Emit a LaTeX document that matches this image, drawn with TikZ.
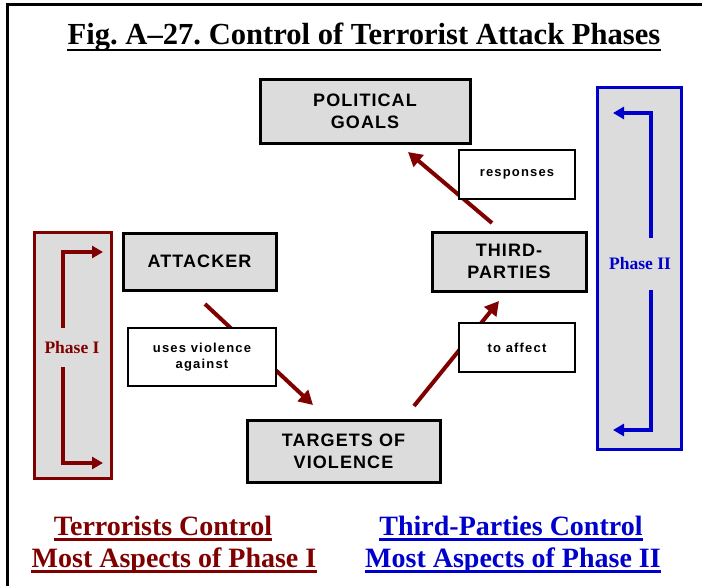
\documentclass[tikz,border=0pt]{standalone}
\usepackage{fontspec}
\setmainfont{Liberation Serif}
\newfontfamily\arialf{Liberation Sans}[LetterSpace=6]
\newfontfamily\arials{Liberation Sans}[LetterSpace=9]
\usetikzlibrary{arrows.meta,calc}
\definecolor{dred}{HTML}{800000}
\definecolor{dblue}{HTML}{0000CC}
\definecolor{boxgray}{HTML}{DCDCDC}
\tikzset{
  graybox/.style={draw=black, line width=3pt, fill=boxgray, inner sep=0pt, align=center, font=\arialf\bfseries\fontsize{18}{22}\selectfont},
  labelbox/.style={draw=black, line width=2.5pt, fill=white, inner sep=0pt, align=center, font=\arials\bfseries\fontsize{13}{16}\selectfont},
  flow/.style={draw=dred, line width=4pt, -{Triangle[length=14pt,width=15pt]}},
  phasearrow/.style={line width=3.5pt, -{Triangle[length=11pt,width=12pt]}},
  phasebox/.style={line width=3pt, fill=boxgray},
  bottomtext/.style={inner sep=0pt, anchor=base, font=\bfseries\fontsize{28}{32}\selectfont},
}
\frenchspacing
\begin{document}
\begin{tikzpicture}[x=1pt,y=-1pt]
\useasboundingbox (0,0) rectangle (702,586);
% frame
\draw[line width=3pt] (7,586) -- (7,5) -- (702,5);
% title
\node[inner sep=0pt, anchor=base, font=\bfseries\fontsize{30.6}{34}\selectfont] (title) at (364,45) {Fig. A--27. Control of Terrorist Attack Phases};
\draw[line width=2.4pt] ($(title.base west)+(0,5)$) -- ($(title.base east)+(0,5)$);

% phase boxes
\draw[phasebox, draw=dred] (34,232) rectangle (111,478);
\draw[phasebox, draw=dblue] (597,88) rectangle (681,449);
\node[text=dred, font=\bfseries\fontsize{17.5}{20}\selectfont] (ph1) at (72,348) {Phase I};
\node[text=dblue, font=\bfseries\fontsize{17.5}{20}\selectfont] (ph2) at (640,264) {Phase II};
\coordinate (p1a) at (63,328); \coordinate (p1b) at (103,252);
\coordinate (p1c) at (63,367); \coordinate (p1d) at (103,463);
\draw[phasearrow, draw=dred] (p1a) |- (p1b);
\draw[phasearrow, draw=dred] (p1c) |- (p1d);
\coordinate (p2a) at (651,238); \coordinate (p2b) at (613,113);
\coordinate (p2c) at (651,290); \coordinate (p2d) at (613,430);
\draw[phasearrow, draw=dblue] (p2a) |- (p2b);
\draw[phasearrow, draw=dblue] (p2c) |- (p2d);

% main boxes
\node[graybox, minimum width=210pt, minimum height=63pt] (pol) at (365,111.5) {POLITICAL\\GOALS};
\node[graybox, minimum width=153pt, minimum height=57pt] (att) at (199.5,261.5) {ATTACKER};
\node[graybox, minimum width=154pt, minimum height=59pt] (third) at (509,261.5) {THIRD-\\PARTIES};
\node[graybox, minimum width=193pt, minimum height=62pt] (targ) at (343.5,451) {TARGETS OF\\VIOLENCE};

% flow arrows
\coordinate (a1s) at (205,304); \coordinate (a1e) at (313,405);
\coordinate (a2s) at (414,406); \coordinate (a2e) at (499,301);
\coordinate (a3s) at (492,223); \coordinate (a3e) at (408,152);
\draw[flow] (a1s) -- (a1e);
\draw[flow] (a2s) -- (a2e);
\draw[flow] (a3s) -- (a3e);

% label boxes
\node[labelbox, minimum width=148pt, minimum height=58pt] (uses) at (202,357) {uses violence\\against};
\node[labelbox, minimum width=116pt, minimum height=49pt] (aff) at (517,347.5) {to affect};
\node[labelbox, minimum width=116pt, minimum height=49pt] (resp) at (517,174.5) {responses};

% bottom texts
\node[bottomtext, text=dred] (t1) at (163,535) {Terrorists Control};
\node[bottomtext, text=dred] (t2) at (174,567) {Most Aspects of Phase I};
\node[bottomtext, text=dblue] (t3) at (511,535) {Third-Parties Control};
\node[bottomtext, text=dblue] (t4) at (513,567) {Most Aspects of Phase II};
\draw[dred, line width=2.5pt] ($(t1.base west)+(0,4.5)$) -- ($(t1.base east)+(0,4.5)$);
\draw[dred, line width=2.5pt] ($(t2.base west)+(0,4.5)$) -- ($(t2.base east)+(0,4.5)$);
\draw[dblue, line width=2.5pt] ($(t3.base west)+(0,4.5)$) -- ($(t3.base east)+(0,4.5)$);
\draw[dblue, line width=2.5pt] ($(t4.base west)+(0,4.5)$) -- ($(t4.base east)+(0,4.5)$);
\end{tikzpicture}
\end{document}
